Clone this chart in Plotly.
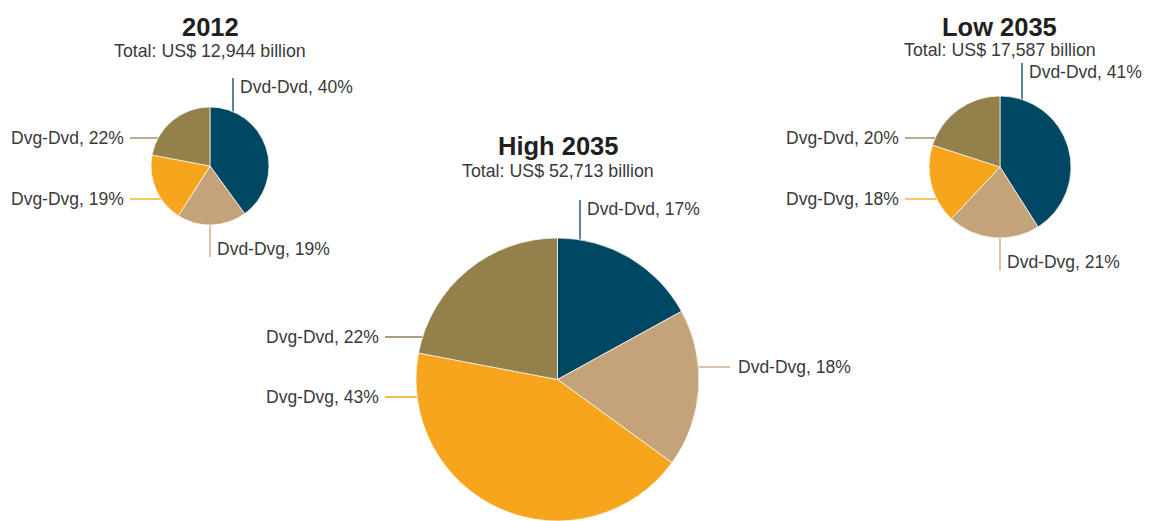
import math
import plotly.graph_objects as go

# ---- data ----
categories = ["Dvd-Dvd", "Dvd-Dvg", "Dvg-Dvg", "Dvg-Dvd"]
titles = ["2012", "High 2035", "Low 2035"]
totals_bn = ["12,944", "52,713", "17,587"]
share_2012 = [40, 19, 19, 22]
share_high_2035 = [17, 18, 43, 22]
share_low_2035 = [41, 21, 18, 20]

colors = ["#004763", "#C4A37A", "#F6A51D", "#93804B"]

W, H = 1164, 521
LABEL_FONT = dict(family="Liberation Sans, Arial, sans-serif", size=17.5, color="#3a3a3a")
TITLE_FONT = dict(family="Liberation Sans, Arial, sans-serif", size=25.5, color="#231f20")
SUB_FONT = dict(family="Liberation Sans, Arial, sans-serif", size=17.8, color="#3a3a3a")


def fx(x):
    return x / W


def fy(y):
    return 1 - y / H


# pie geometry in pixels: centre, radius, title rows, and the leader for each slice
# leader: (direction, offset along the other axis, far end of the line)
pies = [
    dict(values=share_2012, title=titles[0], total=totals_bn[0],
         cx=210, cy=166, r=59, ty=27, sy=51,
         leaders=[("up", 233, 78), ("down", 210, 257), ("left", 199, 130), ("left", 138, 130)]),
    dict(values=share_high_2035, title=titles[1], total=totals_bn[1],
         cx=557.5, cy=379.5, r=141.5, ty=146, sy=171,
         leaders=[("up", 580, 200), ("right", 367, 730), ("left", 397, 385), ("left", 337, 385)]),
    dict(values=share_low_2035, title=titles[2], total=totals_bn[2],
         cx=1000, cy=167, r=71, ty=27, sy=50,
         leaders=[("up", 1022, 63), ("down", 1000, 270), ("left", 199, 905), ("left", 138, 905)]),
]

fig = go.Figure()
shapes = []
annotations = []

for p in pies:
    cx, cy, r = p["cx"], p["cy"], p["r"]
    fig.add_trace(go.Pie(
        labels=categories,
        values=p["values"],
        sort=False,
        direction="clockwise",
        rotation=0,
        textinfo="none",
        hovertemplate="%{label}: %{value}%<extra>" + p["title"] + "</extra>",
        marker=dict(colors=colors, line=dict(color="rgba(255,255,255,0.85)", width=0.8)),
        domain=dict(x=[fx(cx - r), fx(cx + r)], y=[fy(cy + r), fy(cy - r)]),
        showlegend=False,
    ))

    annotations.append(dict(text="<b>" + p["title"] + "</b>", x=fx(cx), y=fy(p["ty"]),
                            xref="paper", yref="paper", xanchor="center", yanchor="middle",
                            showarrow=False, font=TITLE_FONT))
    annotations.append(dict(text="Total: US$ " + p["total"] + " billion", x=fx(cx), y=fy(p["sy"]),
                            xref="paper", yref="paper", xanchor="center", yanchor="middle",
                            showarrow=False, font=SUB_FONT))

    for name, val, col, (kind, off, end) in zip(categories, p["values"], colors, p["leaders"]):
        label = f"{name}, {val}%"
        if kind in ("up", "down"):
            dy = math.sqrt(max(r * r - (off - cx) ** 2, 0))
            edge = cy - dy if kind == "up" else cy + dy
            x0 = x1 = off
            y0, y1 = edge, end
            tx = off + 5
            ty = end + 9 if kind == "up" else end - 8
            xa = "left"
        else:
            dx = math.sqrt(max(r * r - (off - cy) ** 2, 0))
            edge = cx - dx if kind == "left" else cx + dx
            y0 = y1 = off
            x0, x1 = edge, end
            ty = off
            tx = end - 4 if kind == "left" else end + 6
            xa = "right" if kind == "left" else "left"
        shapes.append(dict(type="line", xref="paper", yref="paper",
                           x0=fx(x0), x1=fx(x1), y0=fy(y0), y1=fy(y1),
                           line=dict(color=col, width=1.3), layer="below"))
        annotations.append(dict(text=label, x=fx(tx), y=fy(ty), xref="paper", yref="paper",
                                xanchor=xa, yanchor="middle", showarrow=False, font=LABEL_FONT))

fig.update_layout(
    width=W, height=H,
    margin=dict(l=0, r=0, t=0, b=0),
    paper_bgcolor="white",
    plot_bgcolor="white",
    shapes=shapes,
    annotations=annotations,
)

fig.write_html("out.html")
